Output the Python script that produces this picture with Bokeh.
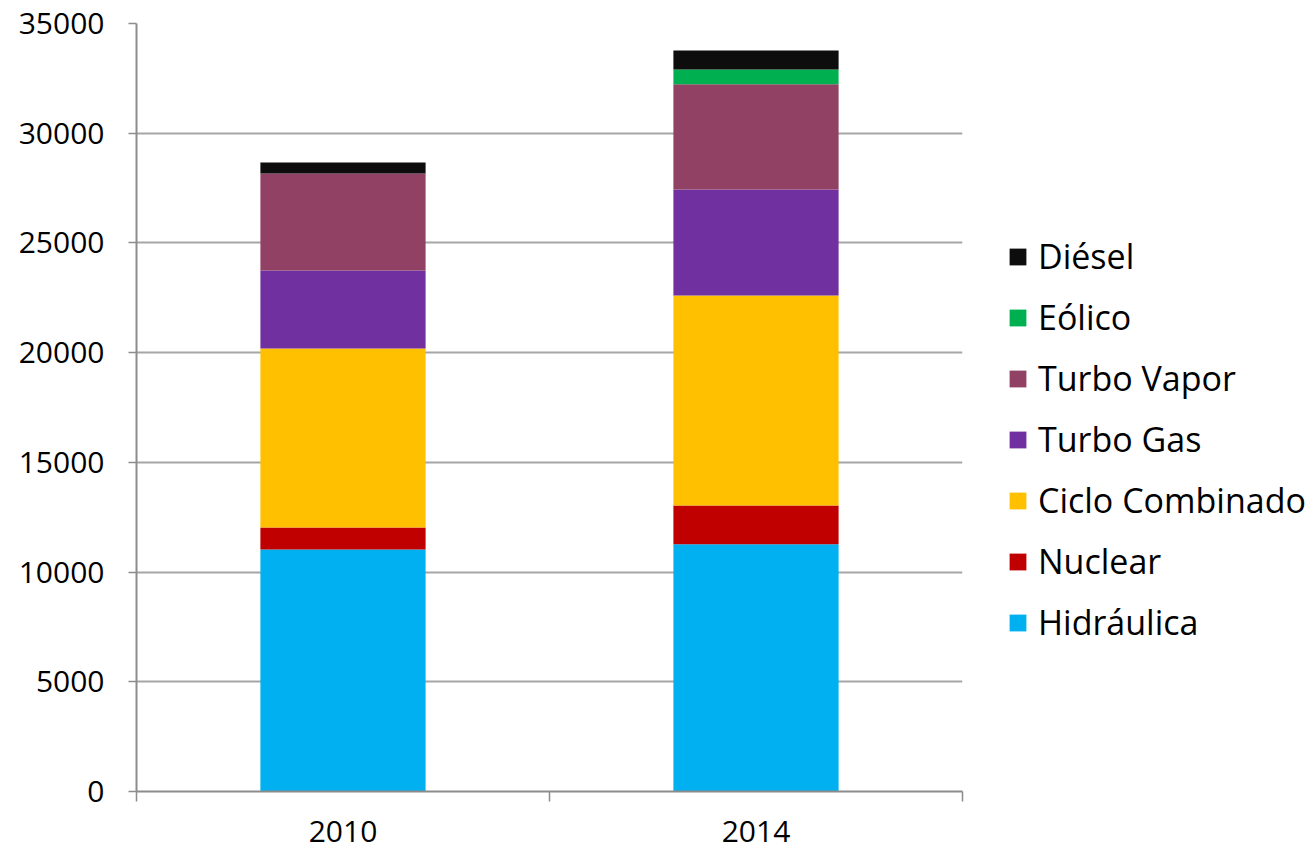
from bokeh.plotting import figure
from bokeh.models import Legend, LegendItem, FixedTicker, ColumnDataSource, Range1d
from bokeh.embed import file_html
from bokeh.resources import INLINE

years = ["2010", "2014"]
hidraulica = [11030, 11270]
nuclear = [1000, 1765]
ciclo_combinado = [8160, 9570]
turbo_gas = [3555, 4830]
turbo_vapor = [4420, 4800]
eolico = [0, 670]
diesel = [500, 865]

series = ["Hidráulica", "Nuclear", "Ciclo Combinado", "Turbo Gas", "Turbo Vapor", "Eólico", "Diésel"]
colors = ["#00B0F0", "#C00000", "#FFC000", "#7030A0", "#914163", "#00B050", "#0D0D0D"]
y_ticks = [0, 5000, 10000, 15000, 20000, 25000, 30000, 35000]

x = [i + 0.5 for i in range(len(years))]
src = ColumnDataSource(dict(x=x, **{
    "Hidráulica": hidraulica, "Nuclear": nuclear, "Ciclo Combinado": ciclo_combinado,
    "Turbo Gas": turbo_gas, "Turbo Vapor": turbo_vapor, "Eólico": eolico, "Diésel": diesel}))

FONT = "Open Sans"

p = figure(frame_width=826, frame_height=768, output_backend="svg", toolbar_location=None,
           x_range=Range1d(0, len(years)), y_range=Range1d(0, 35000))
p.min_border_left = 136
p.min_border_top = 23
p.min_border_bottom = 62
p.min_border_right = 0
p.outline_line_color = None

rs = p.vbar_stack(series, x="x", width=0.4, source=src, color=colors, line_color=None)

# axes
p.xaxis.ticker = FixedTicker(ticks=x, minor_ticks=[0, 1, 2])
p.xaxis.major_label_overrides = {x[i]: years[i] for i in range(len(years))}
p.xaxis.major_tick_out = 0
p.xaxis.major_tick_in = 0
p.xaxis.minor_tick_out = 10
p.xaxis.minor_tick_in = 0
p.xaxis.minor_tick_line_color = "#8c8c8c"
p.xaxis.minor_tick_line_width = 1.5
p.xaxis.axis_line_color = "#8c8c8c"
p.xaxis.axis_line_width = 2
p.xaxis.major_label_standoff = 19
p.xaxis.major_label_text_font = FONT
p.xaxis.major_label_text_font_size = "30px"
p.xaxis.major_label_text_color = "#000000"

p.yaxis.ticker = FixedTicker(ticks=y_ticks)
p.yaxis.minor_tick_line_color = None
p.yaxis.major_tick_out = 8
p.yaxis.major_tick_in = 0
p.yaxis.major_tick_line_color = "#8c8c8c"
p.yaxis.major_tick_line_width = 1.5
p.yaxis.axis_line_color = "#8c8c8c"
p.yaxis.axis_line_width = 2
p.yaxis.major_label_standoff = 24
p.yaxis.major_label_text_font = FONT
p.yaxis.major_label_text_font_size = "30px"
p.yaxis.major_label_text_color = "#000000"

p.xgrid.grid_line_color = None
p.ygrid.grid_line_color = "#a6a6a6"
p.ygrid.grid_line_width = 2
p.ygrid.ticker = FixedTicker(ticks=y_ticks)

items = [LegendItem(label=series[i], renderers=[rs[i]]) for i in reversed(range(len(series)))]
legend = Legend(items=items, location=(45, 146))
legend.border_line_color = None
legend.background_fill_alpha = 0
legend.margin = 0
legend.padding = 0
legend.glyph_width = 21
legend.glyph_height = 21
legend.label_standoff = 10
legend.spacing = 15
legend.label_text_font = FONT
legend.label_text_font_size = "34px"
legend.label_text_color = "#000000"
p.add_layout(legend, "right")

open("out.html", "w").write(file_html(p, INLINE))
